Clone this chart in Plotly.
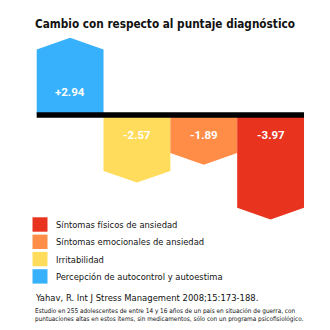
import plotly.graph_objects as go

# ---- data ----
categories = ["Percepción de autocontrol y autoestima", "Irritabilidad",
              "Síntomas emocionales de ansiedad", "Síntomas físicos de ansiedad"]
values = [2.94, -2.57, -1.89, -3.97]
value_labels = ["+2.94", "-2.57", "-1.89", "-3.97"]
colors = ["#38B1FC", "#FFDC5C", "#FF8D48", "#E8331F"]
legend_order = [3, 2, 1, 0]

title = "Cambio con respecto al puntaje diagnóstico"
citation = "Yahav, R. Int J Stress Management 2008;15:173-188."
footnote = ["Estudio en 255 adolescentes de entre 14 y 16 años de un país en situación de guerra, con",
            "puntuaciones altas en estos ítems, sin medicamentos, sólo con un programa psicofisiológico."]

W = H = 330
NARROW = "DejaVu Sans Condensed, sans-serif"
LABEL_FONT = "Roboto, sans-serif"

# pixel geometry -> axis ranges (plot area = full figure)
PX_PER_X = 66.83
PX_PER_Y = 26.3
X0_PX = 36.7   # pixel of x = -0.5
ZERO_PX = 115.0
x_range = [-0.5 - X0_PX / PX_PER_X, -0.5 + (W - X0_PX) / PX_PER_X]
y_range = [-(H - ZERO_PX) / PX_PER_Y, ZERO_PX / PX_PER_Y]
NOTCH = 11.7 / PX_PER_Y


def px(x):
    return x / W


def py(y):
    return 1 - y / H


fig = go.Figure()

for i, (v, c, name) in enumerate(zip(values, colors, categories)):
    s = 1 if v >= 0 else -1
    xs = [i - 0.5, i - 0.5, i, i + 0.5, i + 0.5, i - 0.5]
    ys = [0, v - s * NOTCH, v, v - s * NOTCH, 0, 0]
    fig.add_trace(go.Scatter(x=xs, y=ys, fill="toself", fillcolor=c, mode="lines",
                             line=dict(width=0, color=c), name=name,
                             showlegend=False, hoverinfo="skip"))

# value labels
for i, (v, lab) in enumerate(zip(values, value_labels)):
    off = 0.87 if v >= 0 else -0.76
    fig.add_annotation(x=i, y=off, xref="x", yref="y", text="<b>%s</b>" % lab,
                       showarrow=False, font=dict(family=LABEL_FONT, size=11.5, color="white"),
                       xanchor="center", yanchor="middle")

shapes = []
# baseline black bar
shapes.append(dict(type="rect", xref="x", yref="y", x0=-0.5, x1=len(values) - 0.5,
                   ysizemode="pixel", yanchor=0, y0=-2.7, y1=2.7,
                   fillcolor="black", line=dict(width=0), layer="above"))

# legend
for k, idx in enumerate(legend_order):
    top = 217.3 + k * 17.3
    shapes.append(dict(type="rect", xref="paper", yref="paper",
                       x0=px(32.5), x1=px(47.5), y0=py(top + 14.4), y1=py(top),
                       fillcolor=colors[idx], line=dict(width=0)))
    fig.add_annotation(x=px(54), y=py(top + 7.3), xref="paper", yref="paper",
                       text=categories[idx], showarrow=False, xanchor="left", yanchor="middle",
                       font=dict(family=NARROW, size=9.3, color="#111"))

fig.add_annotation(x=px(165), y=py(24), xref="paper", yref="paper", text="<b>%s</b>" % title,
                   showarrow=False, xanchor="center", yanchor="middle",
                   font=dict(family=NARROW, size=11.7, color="#111"))
fig.add_annotation(x=px(32.5), y=py(297), xref="paper", yref="paper", text=citation,
                   showarrow=False, xanchor="left", yanchor="middle",
                   font=dict(family=NARROW, size=9.4, color="#111"))
for j, line in enumerate(footnote):
    fig.add_annotation(x=px(32.5), y=py(311 + j * 8.3), xref="paper", yref="paper", text=line,
                       showarrow=False, xanchor="left", yanchor="middle",
                       font=dict(family=NARROW, size=6.4, color="#111"))

fig.update_layout(width=W, height=H, margin=dict(l=0, r=0, t=0, b=0),
                  paper_bgcolor="white", plot_bgcolor="white", shapes=shapes,
                  xaxis=dict(range=x_range, visible=False, fixedrange=True),
                  yaxis=dict(range=y_range, visible=False, fixedrange=True),
                  showlegend=False)

fig.write_html("out.html", config={"displayModeBar": False})
